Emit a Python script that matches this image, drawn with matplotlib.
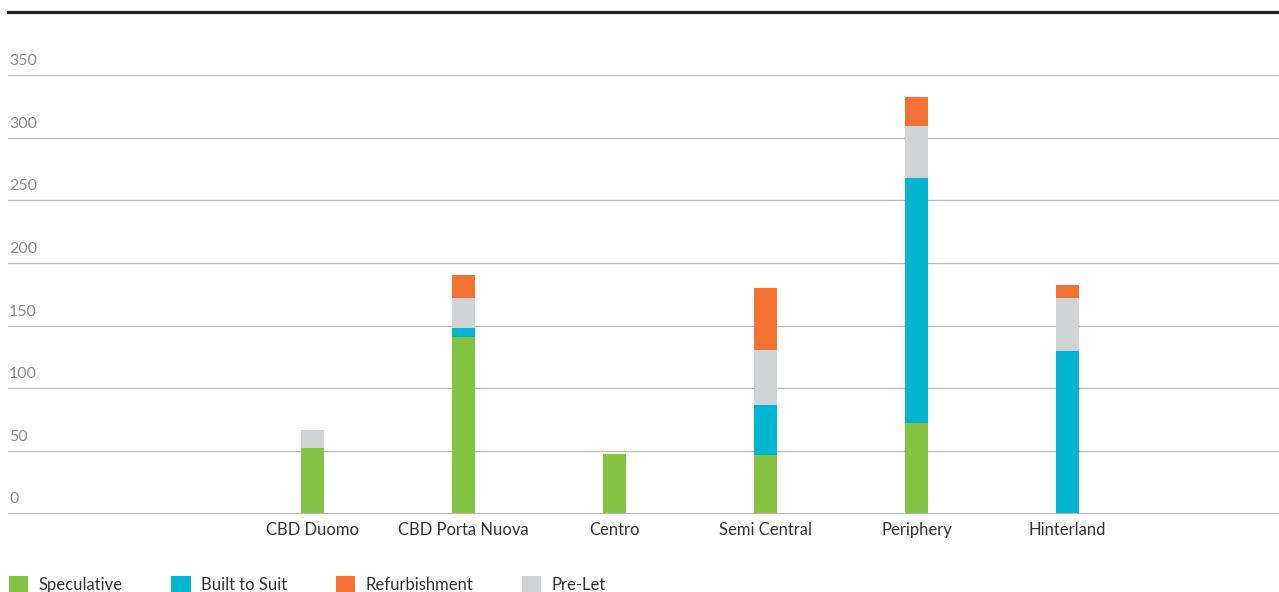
import matplotlib.pyplot as plt
import matplotlib.transforms as mtransforms
from matplotlib.patches import Patch
import numpy as np

plt.rcParams['font.family'] = ['Lato', 'DejaVu Sans']

# Data (stacked: speculative, built to suit, pre-let, refurbishment)
areas = ['CBD Duomo', 'CBD Porta Nuova', 'Centro', 'Semi Central', 'Periphery', 'Hinterland']
speculative = [52, 141, 47.5, 46.5, 72, 0]
built_to_suit = [0, 7, 0, 40, 196, 130]
pre_let = [14.5, 24, 0, 44, 41.5, 42]
refurbishment = [0, 18.5, 0, 49.5, 23, 10]
y_ticks = [0, 50, 100, 150, 200, 250, 300, 350]

colors = {'Speculative': '#82c341', 'Built to Suit': '#00b5cf',
          'Refurbishment': '#f47133', 'Pre-Let': '#d1d2d4'}

fig = plt.figure(figsize=(12.79, 5.92), dpi=100)
ax = fig.add_axes([8 / 1279, 0.1329, 1 - 8 / 1279, 0.846])

x = np.arange(len(areas))
w = 0.152
bottom = np.zeros(len(areas))
for vals, name in [(speculative, 'Speculative'), (built_to_suit, 'Built to Suit'),
                   (pre_let, 'Pre-Let'), (refurbishment, 'Refurbishment')]:
    ax.bar(x, vals, w, bottom=bottom, color=colors[name], zorder=3, linewidth=0)
    bottom += np.array(vals)

ax.set_xlim(-2.02, 6.40)
ax.set_ylim(0, 400)

# gridlines
for v in y_ticks:
    ax.axhline(v, color='#b8b8b8', linewidth=0.9, zorder=1, clip_on=False)

for s in ['left', 'right', 'bottom']:
    ax.spines[s].set_visible(False)
ax.spines['top'].set_color('#222222')
ax.spines['top'].set_linewidth(2.3)

# y labels sit above their gridline
offset = mtransforms.ScaledTranslation(1 / 100, 7 / 100, fig.dpi_scale_trans)
for v in y_ticks:
    ax.text(0, v, str(v), transform=ax.get_yaxis_transform() + offset,
            ha='left', va='bottom', fontsize=11.5, color='#8c8c8c')
ax.set_yticks([])

ax.set_xticks(x)
ax.set_xticklabels(areas, fontsize=12, color='#333333')
ax.tick_params(axis='x', length=0, pad=6)

handles = [Patch(facecolor=colors[n], edgecolor='none', label=n)
           for n in ['Speculative', 'Built to Suit', 'Refurbishment', 'Pre-Let']]
fig.legend(handles=handles, loc='lower left', bbox_to_anchor=(9 / 1279, -0.002),
           ncol=4, frameon=False, fontsize=12, handlelength=1.15, handleheight=1.2,
           handletextpad=0.6, columnspacing=2.95, labelcolor='#333333',
           borderaxespad=0, borderpad=0)

fig.savefig('out.png', dpi=100, facecolor='white')
